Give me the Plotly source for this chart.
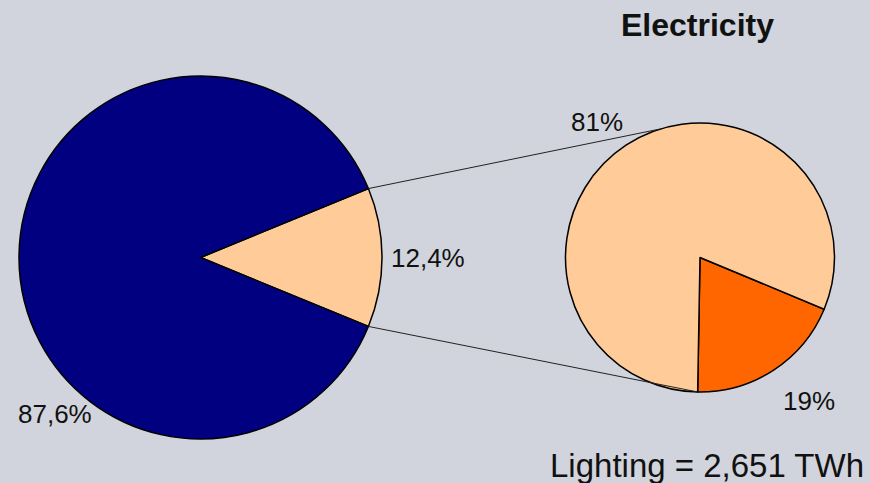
import math
import plotly.graph_objects as go

# Electricity use: share of lighting, and how lighting splits further
primary_labels = ["Other uses", "Lighting"]
primary_values = [87.6, 12.4]
secondary_labels = ["Lighting (part A)", "Lighting (part B)"]
secondary_values = [81, 19]
title_text = "Electricity"
footer_text = "Lighting = 2,651 TWh"

W, H = 870, 483
BG = "#D1D4DC"
NAVY, PEACH, ORANGE = "#000080", "#FFCC99", "#FF6600"
FONT = "Liberation Sans, Arial, sans-serif"
TEXT = "#111111"

# pie geometry in pixels: centre and radius
big_c, big_r = (200.5, 257.5), 181.5
small_c, small_r = (700.0, 257.5), 134.5


def domain(c, r):
    cx, cy = c
    return dict(x=[(cx - r) / W, (cx + r) / W],
                y=[1 - (cy + r) / H, 1 - (cy - r) / H])


def to_paper(px, py):
    return px / W, 1 - py / H


def on_circle(c, r, deg):
    # deg: mathematical angle (0 = 3 o'clock, counter-clockwise positive)
    a = math.radians(deg)
    return c[0] + r * math.cos(a), c[1] - r * math.sin(a)


def pct(v):
    s = f"{v:g}".replace(".", ",")
    return s + "%"


big_total = sum(primary_values)
small_total = sum(secondary_values)
light_span = primary_values[1] / big_total * 360
# lighting wedge centred on 3 o'clock, drawn first (clockwise from 12 o'clock)
big_rotation = 90 - light_span / 2
# smaller slice ends just past 6 o'clock
part_b_span = secondary_values[1] / small_total * 360
small_rotation = 181 - part_b_span

fig = go.Figure()
fig.add_trace(go.Pie(
    labels=[primary_labels[1], primary_labels[0]],
    values=[primary_values[1], primary_values[0]],
    marker=dict(colors=[PEACH, NAVY], line=dict(color="black", width=1.5)),
    sort=False, direction="clockwise", rotation=big_rotation,
    textinfo="none", hoverinfo="label+percent",
    domain=domain(big_c, big_r), showlegend=False,
))
fig.add_trace(go.Pie(
    labels=[secondary_labels[1], secondary_labels[0]],
    values=[secondary_values[1], secondary_values[0]],
    marker=dict(colors=[ORANGE, PEACH], line=dict(color="black", width=1.5)),
    sort=False, direction="clockwise", rotation=small_rotation,
    textinfo="none", hoverinfo="label+percent",
    domain=domain(small_c, small_r), showlegend=False,
))

# connector lines from the lighting wedge edges to the second pie
half = light_span / 2
p_top = on_circle(big_c, big_r, half)
p_bot = on_circle(big_c, big_r, -half)
q_top = on_circle(small_c, small_r, 107)
q_bot = on_circle(small_c, small_r, 269)
shapes = []
for a, b in [(p_top, q_top), (p_bot, q_bot)]:
    x0, y0 = to_paper(*a)
    x1, y1 = to_paper(*b)
    shapes.append(dict(type="line", xref="paper", yref="paper",
                       x0=x0, y0=y0, x1=x1, y1=y1,
                       line=dict(color="#222222", width=1)))


def ann(text, px, py, size, bold=False):
    x, y = to_paper(px, py)
    return dict(text=f"<b>{text}</b>" if bold else text, x=x, y=y,
                xref="paper", yref="paper", showarrow=False,
                xanchor="center", yanchor="middle",
                font=dict(family=FONT, size=size, color=TEXT))


annotations = [
    ann(pct(primary_values[1]), 428, 258, 26),
    ann(pct(primary_values[0]), 55, 414, 26),
    ann(pct(secondary_values[0]), 597, 122, 26),
    ann(pct(secondary_values[1]), 809, 401, 26),
    ann(title_text, 697, 25, 32, bold=True),
    ann(footer_text, 707, 465, 33),
]

fig.update_layout(
    width=W, height=H,
    margin=dict(l=0, r=0, t=0, b=0),
    paper_bgcolor=BG, plot_bgcolor=BG,
    shapes=shapes, annotations=annotations,
    font=dict(family=FONT, color=TEXT),
)

fig.write_html("out.html")
